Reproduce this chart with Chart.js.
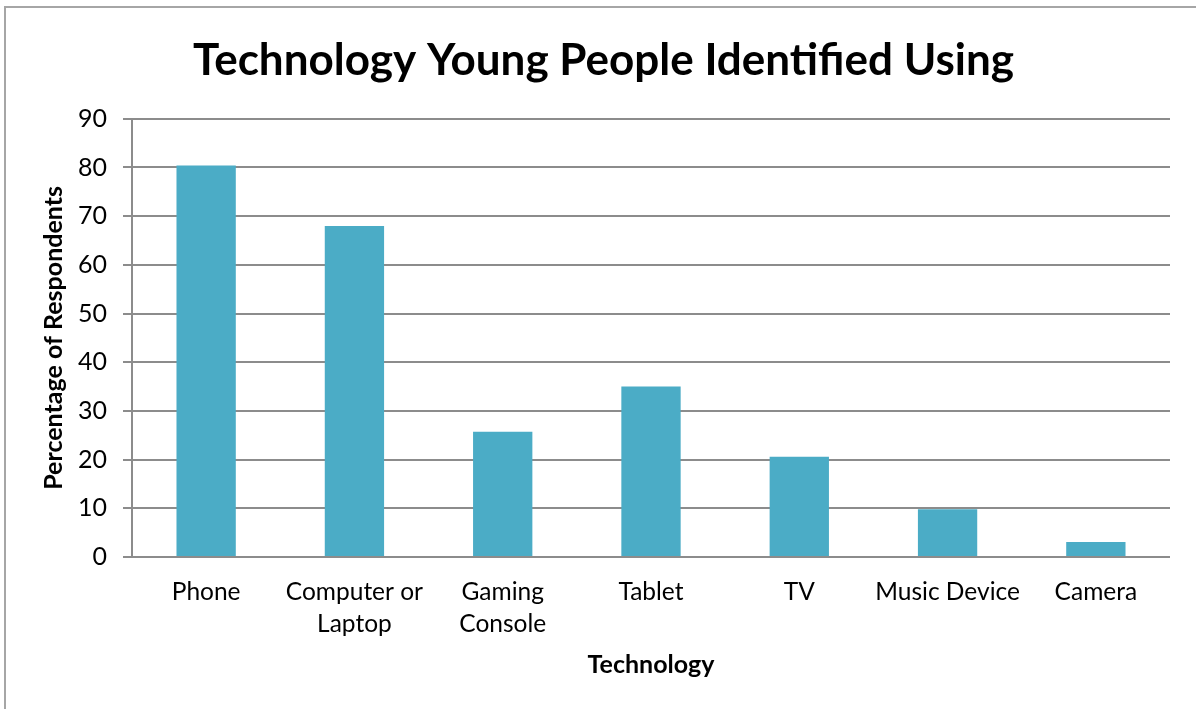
<!DOCTYPE html>
<html>
<head>
<meta charset="utf-8">
<script src="https://cdn.jsdelivr.net/npm/chart.js@4"></script>
<style>
  html, body { margin: 0; padding: 0; background: #fff; }
  .frame { position: absolute; left: 0; top: 0; width: 1196px; height: 709px; }
  .edge { position: absolute; left: 4px; top: 6px; right: 0; bottom: 0;
          border-left: 2px solid #a6a6a6; border-top: 2px solid #a6a6a6; pointer-events: none; }
</style>
</head>
<body>
<div class="frame">
  <canvas id="techChart" width="1196" height="709"></canvas>
  <div class="edge"></div>
</div>
<script>
// --- data ---
const categories = ['Phone', ['Computer or', 'Laptop'], ['Gaming', 'Console'], 'Tablet', 'TV', 'Music Device', 'Camera'];
const percentages = [80.4, 68, 25.7, 35, 20.6, 9.8, 3.1];
const yTicks = [0, 10, 20, 30, 40, 50, 60, 70, 80, 90];

const FONT = "Lato, 'Open Sans', sans-serif";
const GRID = '#8c8c8c';

new Chart(document.getElementById('techChart'), {
    type: 'bar',
    data: {
        labels: categories,
        datasets: [{
            data: percentages,
            backgroundColor: '#4bacc6',
            categoryPercentage: 1,
            barPercentage: 0.4
        }]
    },
    options: {
        responsive: false,
        animation: false,
        layout: { padding: { left: 37, right: 26, top: 0, bottom: 29 } },
        plugins: {
            legend: { display: false },
            tooltip: { enabled: false },
            title: {
                display: true,
                text: 'Technology Young People Identified Using',
                color: '#000',
                font: { family: FONT, size: 44, weight: 'bold', lineHeight: 1.2 },
                padding: { top: 34, bottom: 32 }
            }
        },
        scales: {
            x: {
                afterFit: (scale) => { scale.height = 123; },
                grid: { display: false, drawTicks: false, tickLength: 0 },
                border: { display: false },
                ticks: {
                    color: '#000',
                    padding: 19,
                    maxRotation: 0,
                    autoSkip: false,
                    font: { family: FONT, size: 24.5, lineHeight: 1.3 }
                },
                title: {
                    display: true,
                    text: 'Technology',
                    color: '#000',
                    font: { family: FONT, size: 25, weight: 'bold', lineHeight: 1.2 },
                    padding: { top: 0, bottom: 0 }
                }
            },
            y: {
                min: 0,
                max: 90,
                afterFit: (scale) => { scale.width = 95; },
                afterBuildTicks: (scale) => { scale.ticks = yTicks.map(v => ({ value: v })); },
                grid: { color: GRID, lineWidth: 2, tickLength: 9, drawTicks: true },
                border: { display: true, color: GRID, width: 2 },
                ticks: {
                    color: '#000',
                    padding: 16,
                    font: { family: FONT, size: 25 }
                },
                title: {
                    display: true,
                    text: 'Percentage of Respondents',
                    color: '#000',
                    font: { family: FONT, size: 25, weight: 'bold', lineHeight: 1.2 },
                    padding: { top: 2, bottom: 0 }
                }
            }
        }
    }
});
</script>
</body>
</html>
